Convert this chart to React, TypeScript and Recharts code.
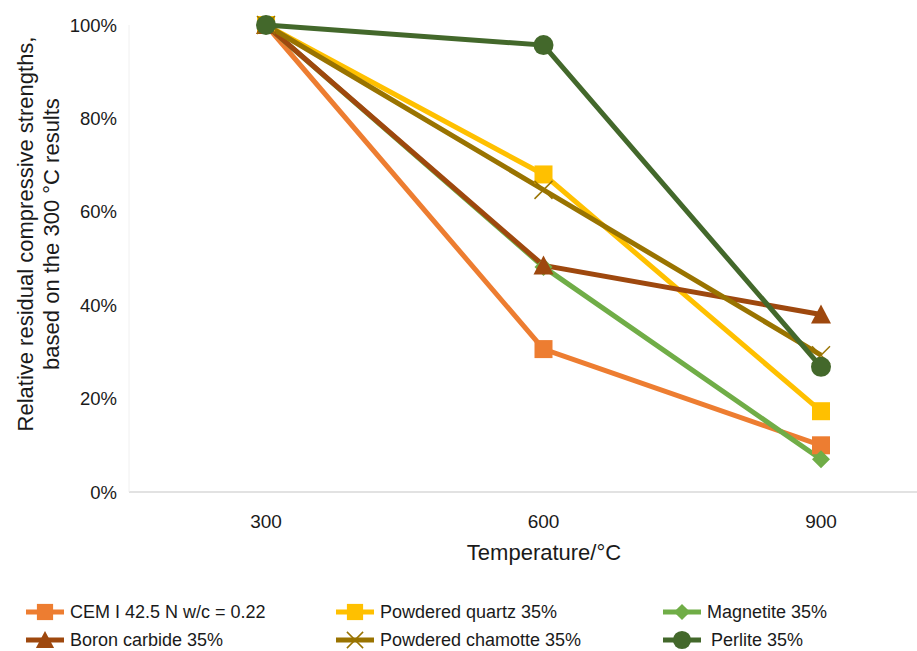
import React from "react";
import { LineChart, Line, XAxis, YAxis, Legend } from "recharts";

const temperatures = ["300", "600", "900"];
const cem = [100, 30.6, 10];
const quartz = [100, 68, 17.3];
const magnetite = [100, 48.2, 7];
const boron = [100, 48.5, 38];
const chamotte = [100, 64.7, 29.3];
const perlite = [100, 95.7, 26.8];
const yTicks = [0, 20, 40, 60, 80, 100];

type Shape = "square" | "triangle" | "diamond" | "cross" | "circle";

const SERIES: { key: string; name: string; color: string; shape: Shape; values: number[] }[] = [
  { key: "cem", name: "CEM I 42.5 N w/c = 0.22", color: "#ED7D31", shape: "square", values: cem },
  { key: "quartz", name: "Powdered quartz 35%", color: "#FFC000", shape: "square", values: quartz },
  { key: "magnetite", name: "Magnetite 35%", color: "#70AD47", shape: "diamond", values: magnetite },
  { key: "boron", name: "Boron carbide 35%", color: "#9E480E", shape: "triangle", values: boron },
  { key: "chamotte", name: "Powdered chamotte 35%", color: "#997300", shape: "cross", values: chamotte },
  { key: "perlite", name: "Perlite 35%", color: "#43682B", shape: "circle", values: perlite },
];

const data = temperatures.map((t, i) => {
  const row: Record<string, number | string> = { t };
  SERIES.forEach((s) => (row[s.key] = s.values[i]));
  return row;
});

const FONT = "'Liberation Sans', Arial, sans-serif";
const TEXT = "#1a1a1a";

function Marker({ shape, color, cx, cy, size = 1 }: { shape: Shape; color: string; cx: number; cy: number; size?: number }) {
  const s = 9 * size;
  switch (shape) {
    case "square":
      return <rect x={cx - s} y={cy - s} width={2 * s} height={2 * s} fill={color} />;
    case "triangle":
      return <polygon points={`${cx},${cy - s - 1} ${cx + s + 1},${cy + s} ${cx - s - 1},${cy + s}`} fill={color} />;
    case "diamond":
      return <polygon points={`${cx},${cy - s} ${cx + s},${cy} ${cx},${cy + s} ${cx - s},${cy}`} fill={color} />;
    case "cross":
      return (
        <g stroke={color} strokeWidth={1.5}>
          <line x1={cx - s} y1={cy - s} x2={cx + s} y2={cy + s} />
          <line x1={cx - s} y1={cy + s} x2={cx + s} y2={cy - s} />
        </g>
      );
    default:
      return <circle cx={cx} cy={cy} r={s + 1} fill={color} />;
  }
}

const makeDot = (shape: Shape, color: string) => (props: any) =>
  <Marker key={props.index} shape={shape} color={color} cx={props.cx} cy={props.cy} />;

function LegendContent() {
  const cols = [25, 335, 662];
  const rows = [31, 59];
  return (
    <div style={{ position: "relative", width: 917, height: 70, fontFamily: FONT, fontSize: 18, color: TEXT }}>
      {SERIES.map((s, i) => {
        const left = cols[i % 3];
        const top = rows[Math.floor(i / 3)];
        return (
          <div key={s.key} style={{ position: "absolute", left, top: top - 14, height: 28, display: "flex", alignItems: "center" }}>
            <svg width={40} height={20}>
              <line x1={1} y1={10} x2={39} y2={10} stroke={s.color} strokeWidth={5} />
              <Marker shape={s.shape} color={s.color} cx={20} cy={10} size={0.9} />
            </svg>
            <span style={{ marginLeft: s.key === "perlite" ? 9 : 5, whiteSpace: "nowrap" }}>{s.name}</span>
          </div>
        );
      })}
    </div>
  );
}

const YLabel = () => (
  <text transform="translate(39,234) rotate(-90)" textAnchor="middle" fontFamily={FONT} fontSize={22} fill={TEXT}>
    <tspan x={0} y={-6}>Relative residual compressive strengths,</tspan>
    <tspan x={0} y={20}>based  on the 300 °C results</tspan>
  </text>
);

const XLabel = () => (
  <text x={544} y={560} textAnchor="middle" fontFamily={FONT} fontSize={22} fill={TEXT}>
    Temperature/°C
  </text>
);

export default function App() {
  return (
    <div style={{ position: "absolute", left: 0, top: 0, width: 917, height: 651, background: "#fff" }}>
      <LineChart width={917} height={651} data={data} margin={{ top: 25, right: 0, bottom: 0, left: 0 }}>
        <XAxis
          dataKey="t"
          padding={{ left: 137, right: 96 }}
          height={89}
          axisLine={{ stroke: "#D9D9D9", strokeWidth: 1.5 }}
          tickLine={false}
          tickSize={0}
          tickMargin={23}
          tick={{ fontFamily: FONT, fontSize: 19, fill: TEXT }}
          label={<XLabel />}
        />
        <YAxis
          width={129}
          domain={[0, 100]}
          ticks={yTicks}
          axisLine={{ stroke: "#F0F0F0" }}
          tickLine={false}
          tickSize={0}
          tickMargin={12}
          tickFormatter={(v) => `${v}%`}
          tick={{ fontFamily: FONT, fontSize: 18.5, fill: TEXT }}
          label={<YLabel />}
        />
        <Legend verticalAlign="bottom" wrapperStyle={{ height: 70, left: 0, width: 917 }} content={<LegendContent />} />
        {SERIES.map((s) => (
          <Line
            key={s.key}
            dataKey={s.key}
            name={s.name}
            stroke={s.color}
            strokeWidth={5}
            dot={makeDot(s.shape, s.color)}
            activeDot={false}
            isAnimationActive={false}
          />
        ))}
      </LineChart>
    </div>
  );
}
